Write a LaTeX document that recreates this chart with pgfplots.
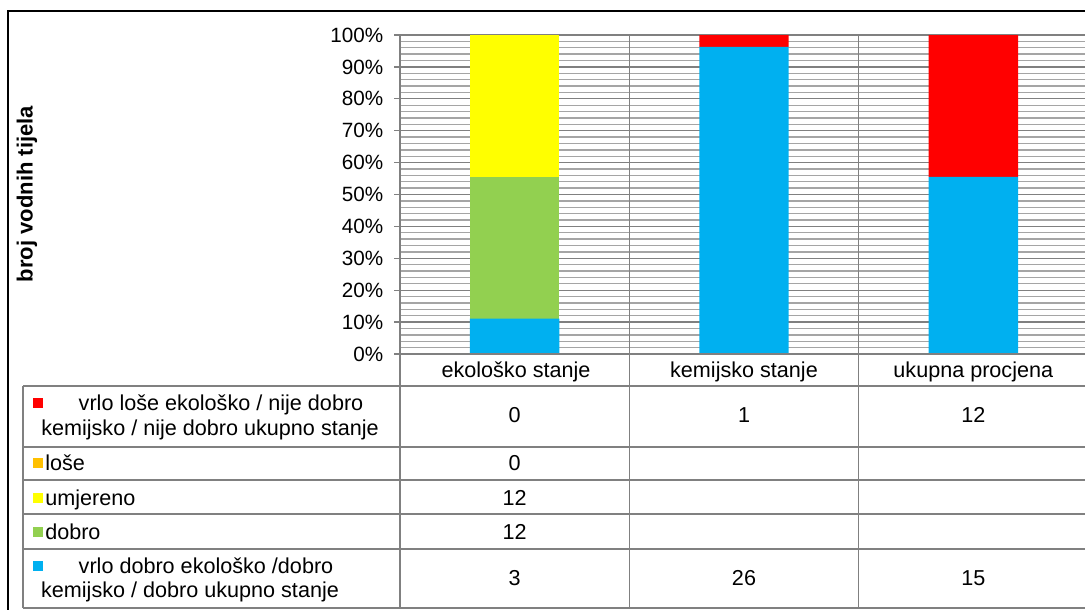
\documentclass[border=0pt]{standalone}
\usepackage{pgfplots}
\pgfplotsset{compat=1.18}
\usepackage{pgfplotstable}
\usepackage{fontspec}
\setmainfont{Liberation Sans}
\definecolor{cblue}{HTML}{00B0F0}
\definecolor{cgreen}{HTML}{92D050}
\definecolor{cyellow}{HTML}{FFFF00}
\definecolor{corange}{HTML}{FFC000}
\definecolor{cred}{HTML}{FF0000}
\definecolor{tline}{RGB}{128,128,128}
\definecolor{gmaj}{RGB}{128,128,128}
\definecolor{gmin}{RGB}{165,165,165}
\newcommand\tf{\fontsize{15.5pt}{18.75pt}\selectfont}
\newcommand\cf{\fontsize{16.2pt}{18.75pt}\selectfont}

% counts of water bodies per category (total 27 each)
\pgfplotstableread{
x blue green yellow orange red
0 3  12 12 0 0
1 26 0  0  0 1
2 15 0  0  0 12
}\data

\begin{document}
\begin{tikzpicture}
\useasboundingbox (0,0) rectangle (813.75pt,-457.5pt);
\clip (0,0) rectangle (813.75pt,-457.5pt);
\begin{axis}[
  at={(300pt,-265.5pt)}, anchor=south west,
  scale only axis, width=516pt, height=239.25pt,
  xmin=-0.5, xmax=2.5, ymin=0, ymax=100,
  ybar stacked, bar width=0.39,
  xtick=\empty,
  ytick={0,10,...,100},
  yticklabel={\pgfmathprintnumber{\tick}\%},
  minor y tick num=4,
  ymajorgrids, yminorgrids,
  major grid style={draw=gmaj, line width=1pt},
  minor grid style={draw=gmin, line width=1pt},
  axis line style={draw=none},
  ytick pos=left, tick align=outside,
  major tick length=4.5pt, minor tick length=0pt,
  y tick style={draw=tline, line width=1pt},
  yticklabel style={font=\tf, xshift=-4.5pt, /pgf/number format/assume math mode=true},
  y filter/.expression={100*y/27},
]
\addplot[draw=none, fill=cblue] table[x=x, y=blue] {\data};
\addplot[draw=none, fill=cgreen] table[x=x, y=green] {\data};
\addplot[draw=none, fill=cyellow] table[x=x, y=yellow] {\data};
\addplot[draw=none, fill=corange] table[x=x, y=orange] {\data};
\addplot[draw=none, fill=cred] table[x=x, y=red] {\data};
\end{axis}

% outer frame
\draw[black, line width=1.5pt] (6pt,-470pt) -- (6pt,-8.25pt) -- (820pt,-8.25pt);

\begin{scope}[x=0.75pt, y=-0.75pt]
  \begin{scope}[draw=tline, line width=1.1pt]
    \draw (400,35) -- (400,608);
    \draw (629.3,35) -- (629.3,608);
    \draw (858.7,35) -- (858.7,608);
    \draw (400,354) -- (1095,354);
    \foreach \yy in {386,447,480,514,549,608} \draw (23,\yy) -- (1095,\yy);
    \draw (23,386) -- (23,608);
  \end{scope}
  % y axis title
  \node[rotate=90, font=\fontsize{16.5pt}{19pt}\selectfont\bfseries] at (27,194) {broj vodnih tijela};
  % category labels
  \node[anchor=base, font=\cf] at (516,377) {ekološko stanje};
  \node[anchor=base, font=\cf] at (744,377) {kemijsko stanje};
  \node[anchor=base, font=\cf] at (973.3,377) {ukupna procjena};
  % row labels with keys
  \fill[cred] (33,398) rectangle (43,408);
  \node[anchor=base, font=\cf] at (221,410) {vrlo loše ekološko / nije dobro};
  \node[anchor=base, font=\cf] at (210,435) {kemijsko / nije dobro ukupno stanje};
  \fill[corange] (33,458) rectangle (43,468);
  \node[anchor=base west, font=\cf, inner sep=0pt] at (45,470) {loše};
  \fill[cyellow] (33,493) rectangle (43,503);
  \node[anchor=base west, font=\cf, inner sep=0pt] at (45,505) {umjereno};
  \fill[cgreen] (33,527) rectangle (43,537);
  \node[anchor=base west, font=\cf, inner sep=0pt] at (45,539) {dobro};
  \fill[cblue] (33,561) rectangle (43,571);
  \node[anchor=base, font=\cf] at (206,573) {vrlo dobro ekološko /dobro};
  \node[anchor=base, font=\cf] at (190,597) {kemijsko / dobro ukupno stanje};
  % values
  \foreach \v/\yy in {0/422,0/470,12/505,12/539,3/585}
    \node[anchor=base, font=\cf] at (514.7,\yy) {\v};
  \node[anchor=base, font=\cf] at (744,422) {1};
  \node[anchor=base, font=\cf] at (744,585) {26};
  \node[anchor=base, font=\cf] at (973.3,422) {12};
  \node[anchor=base, font=\cf] at (973.3,585) {15};
\end{scope}
\end{tikzpicture}
\end{document}
